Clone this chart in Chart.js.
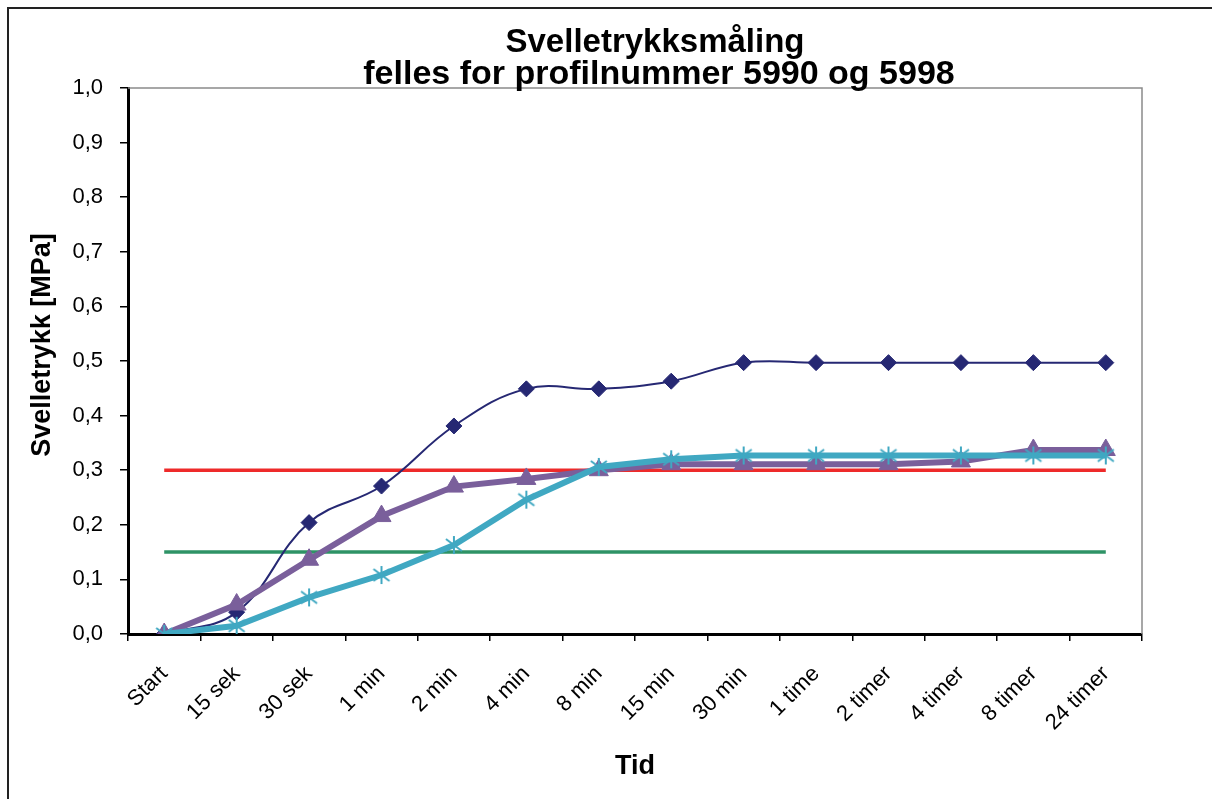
<!DOCTYPE html>
<html>
<head>
<meta charset="utf-8">
<script src="https://cdn.jsdelivr.net/npm/chart.js@4"></script>
<style>
  html, body { margin: 0; padding: 0; background: #fff; overflow: hidden; }
  #frame { position: absolute; left: 7px; top: 7px; width: 1400px; height: 900px; border: 2px solid #222; }
  #wrap { position: absolute; left: 9px; top: 9px; width: 1292px; height: 790px; }
</style>
</head>
<body>
<div id="frame"></div>
<div id="wrap"><canvas id="dataChart"></canvas></div>
<script>
const labels = ['Start', '15 sek', '30 sek', '1 min', '2 min', '4 min', '8 min', '15 min', '30 min', '1 time', '2 timer', '4 timer', '8 timer', '24 timer']
const yTicks = [0, 0.1, 0.2, 0.3, 0.4, 0.5, 0.6, 0.7, 0.8, 0.9, 1.0]

const blueData = [0, 0.040, 0.204, 0.271, 0.381, 0.449, 0.449, 0.463, 0.497, 0.497, 0.497, 0.497, 0.497, 0.497]
const purpleData = [0, 0.054, 0.136, 0.216, 0.270, 0.284, 0.300, 0.311, 0.311, 0.311, 0.311, 0.316, 0.337, 0.337]
const cyanData = [0, 0.015, 0.067, 0.108, 0.163, 0.246, 0.306, 0.320, 0.327, 0.327, 0.327, 0.327, 0.327, 0.327]
const redData = [0.3, 0.3, 0.3, 0.3, 0.3, 0.3, 0.3, 0.3, 0.3, 0.3, 0.3, 0.3, 0.3, 0.3]
const greenData = [0.15, 0.15, 0.15, 0.15, 0.15, 0.15, 0.15, 0.15, 0.15, 0.15, 0.15, 0.15, 0.15, 0.15]

const titleLines = ['Svelletrykksmåling', 'felles for profilnummer 5990 og 5998']
const yTitle = 'Svelletrykk [MPa]'

const FONT = "'Liberation Sans', Arial, sans-serif";

// excel style asterisk marker (6 arms)
function makeStar(color) {
    const c = document.createElement('canvas');
    c.width = 20; c.height = 20;
    const g = c.getContext('2d');
    g.strokeStyle = color;
    g.lineWidth = 2;
    g.beginPath();
    g.moveTo(10, 1); g.lineTo(10, 19);
    g.moveTo(2, 4); g.lineTo(18, 16);
    g.moveTo(18, 4); g.lineTo(2, 16);
    g.stroke();
    return c;
}

const titlePlugin = {
    id: 'twoLineTitle',
    afterDraw(chart) {
        const c = chart.ctx;
        c.save();
        c.fillStyle = '#000';
        c.font = 'bold 33px ' + FONT;
        c.textAlign = 'center';
        c.textBaseline = 'alphabetic';
        c.fillText(titleLines[0], chart.width / 2, 43);
        c.font = 'bold 34px ' + FONT;
        c.fillText(titleLines[1], chart.width / 2 + 4, 75);

        // y axis title, sits a bit above the middle of the plot like the original
        const a = chart.chartArea;
        c.translate(34, (a.top + a.bottom) / 2 - 16);
        c.rotate(-Math.PI / 2);
        c.font = 'bold 27px ' + FONT;
        c.textBaseline = 'middle';
        c.fillText(yTitle, 0, 0);
        c.restore();
    }
};

const plotBorder = {
    id: 'plotBorder',
    beforeDatasetsDraw(chart) {
        const a = chart.chartArea;
        const c = chart.ctx;
        c.save();
        c.strokeStyle = '#8a8a8a';
        c.lineWidth = 1.5;
        c.beginPath();
        c.moveTo(a.left, a.top);
        c.lineTo(a.right, a.top);
        c.lineTo(a.right, a.bottom);
        c.stroke();
        c.restore();
    }
};

const ctx = document.getElementById('dataChart');

var chartData = {
    labels: labels,
    datasets: [{
        label: 'blue',
        data: blueData,
        borderColor: '#262873',
        backgroundColor: '#262873',
        borderWidth: 2,
        tension: 0.4,
        pointStyle: 'rectRot',
        pointRadius: 8,
        pointBorderWidth: 1,
        order: 3
    }, {
        label: 'purple',
        data: purpleData,
        borderColor: '#7a5f9b',
        backgroundColor: '#7a5f9b',
        borderWidth: 6,
        tension: 0,
        pointStyle: 'triangle',
        pointRadius: 11,
        pointBorderWidth: 1,
        order: 2
    }, {
        label: 'cyan',
        data: cyanData,
        borderColor: '#40a8c2',
        backgroundColor: '#40a8c2',
        borderWidth: 6,
        tension: 0,
        pointStyle: makeStar('#40a8c2'),
        order: 1
    }, {
        label: 'red',
        data: redData,
        borderColor: '#ee2a2a',
        borderWidth: 3.5,
        pointRadius: 0,
        order: 4
    }, {
        label: 'green',
        data: greenData,
        borderColor: '#2e9366',
        borderWidth: 3.5,
        pointRadius: 0,
        order: 5
    }]
};

var chartOptions = {
    responsive: true,
    maintainAspectRatio: false,
    animation: false,
    layout: {
        padding: { top: 79, right: 159, left: 0, bottom: 0 }
    },
    plugins: {
        legend: { display: false },
        tooltip: { enabled: false }
    },
    scales: {
        x: {
            offset: true,
            grid: {
                display: true,
                drawOnChartArea: false,
                offset: true,
                color: '#000',
                lineWidth: 1.5,
                tickLength: 7
            },
            border: { color: '#000', width: 3 },
            ticks: {
                color: '#000',
                font: { family: FONT, size: 22 },
                minRotation: 45,
                maxRotation: 45,
                padding: 20,
                autoSkip: false
            },
            title: {
                display: true,
                text: 'Tid',
                color: '#000',
                font: { family: FONT, size: 27, weight: 'bold' },
                padding: { top: 4, bottom: 16 }
            },
            afterFit: function(scale) { scale.height = 165; }
        },
        y: {
            min: 0,
            max: 1,
            afterBuildTicks: function(scale) {
                scale.ticks = yTicks.map(function(v) { return { value: v }; });
            },
            grid: {
                drawOnChartArea: false,
                color: '#000',
                lineWidth: 1.5,
                tickLength: 8
            },
            border: { color: '#000', width: 3 },
            ticks: {
                color: '#000',
                font: { family: FONT, size: 22 },
                padding: 17,
                callback: function(v) { return v.toFixed(1).replace('.', ','); }
            },
            afterFit: function(scale) { scale.width = 119; }
        }
    }
};

var myChart = new Chart(ctx, {
    type: 'line',
    data: chartData,
    options: chartOptions,
    plugins: [titlePlugin, plotBorder]
});
</script>
</body>
</html>
